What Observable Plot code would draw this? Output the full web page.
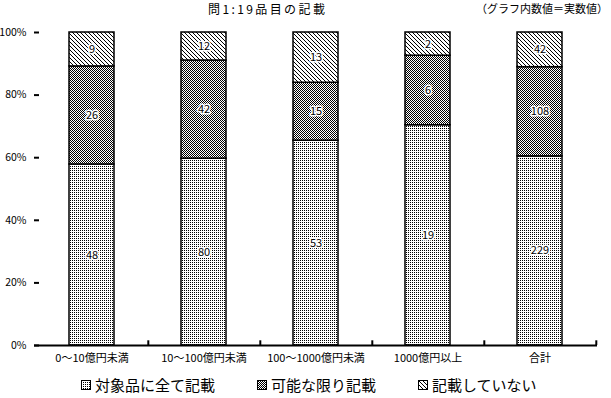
<!DOCTYPE html>
<html><head><meta charset="utf-8">
<script src="https://cdn.jsdelivr.net/npm/d3@7"></script>
<script src="https://cdn.jsdelivr.net/npm/@observablehq/plot@0.6"></script>
<style>
body{margin:0;background:#fff;font-family:"Noto Sans CJK JP",sans-serif;}
#wrap{position:relative;width:611px;height:398px;overflow:hidden;}
#chart{position:absolute;left:0;top:0;}
.t{position:absolute;white-space:nowrap;color:#000;line-height:1;}
.leg{position:absolute;top:377px;display:flex;align-items:center;font-size:15px;white-space:nowrap;line-height:1;}
.leg svg{margin-right:4px;}
</style></head>
<body>
<div id="wrap">
<div id="chart"></div>
<div class="t" style="left:208px;top:3px;font-size:12px;letter-spacing:2.4px;">問1:19品目の記載</div>
<div class="t" style="right:3px;top:3px;font-size:11px;">（グラフ内数値＝実数値）</div>
<div id="legend"></div>
</div>
<script>
const categories = ["0～10億円未満","10～100億円未満","100～1000億円未満","1000億円以上","合計"];
const series = ["対象品に全て記載","可能な限り記載","記載していない"];
const allListed = [48, 80, 53, 19, 229];
const asPossible = [26, 42, 15, 6, 108];
const notListed = [9, 12, 13, 2, 42];
const yTicks = [0, 0.2, 0.4, 0.6, 0.8, 1];
const patterns = ["url(#pDot)", "url(#pChk)", "url(#pDiag)"];

const values = [allListed, asPossible, notListed];
const data = categories.flatMap((c, i) => series.map((s, j) => ({cat: c, series: s, n: values[j][i]})));

const W = 611, H = 398, mL = 34, mR = 14, mT = 32, mB = 53;
const step = (W - mL - mR) / categories.length;

const chart = Plot.plot({
  width: W, height: H, marginLeft: mL, marginRight: mR, marginTop: mT, marginBottom: mB,
  style: {fontFamily: '"Noto Sans CJK JP", sans-serif', fontSize: "11px", color: "black", background: "white", overflow: "visible"},
  x: {domain: categories, paddingInner: 0.6, paddingOuter: 0.3, label: null},
  y: {domain: [0, 1], label: null},
  color: {domain: series, range: patterns},
  marks: [
    Plot.barY(data, Plot.stackY({x: "cat", y: "n", fill: "series", order: series, offset: "normalize", stroke: "black", strokeWidth: 1.5})),
    Plot.text(data, Plot.stackY({x: "cat", y: "n", z: "series", text: "n", order: series, offset: "normalize", fill: "black", stroke: "white", strokeWidth: 3, fontSize: 11})),
    Plot.ruleY([0], {strokeWidth: 2}),
    Plot.ruleX(categories, {x: d => d, dx: step / 2, y1: 0, y2: 0.015, strokeWidth: 2}),
    Plot.axisY({ticks: yTicks, tickFormat: d => Math.round(d * 100) + "%", tickSize: -5, tickPadding: 13, line: true, strokeWidth: 2, label: null, fontSize: 10.5}),
    Plot.axisX({tickSize: 0, tickPadding: 9, label: null})
  ]
});

const defs = `<defs>
<pattern id="pDot" patternUnits="userSpaceOnUse" width="2" height="2"><rect width="2" height="2" fill="#fff"/><rect width="1" height="1" fill="#000"/></pattern>
<pattern id="pChk" patternUnits="userSpaceOnUse" width="2" height="2"><rect width="2" height="2" fill="#fff"/><rect width="1" height="1" fill="#000"/><rect x="1" y="1" width="1" height="1" fill="#000"/></pattern>
<pattern id="pDiag" patternUnits="userSpaceOnUse" width="4" height="4"><rect width="4" height="4" fill="#fff"/><path d="M-1,-1L5,5M3,-1L5,1M-1,3L1,5" stroke="#000" stroke-width="1"/></pattern>
</defs>`;
chart.insertAdjacentHTML("afterbegin", defs);
document.getElementById("chart").appendChild(chart);

const legLeft = [81, 257, 418];
const legend = document.getElementById("legend");
series.forEach((s, i) => {
  const d = document.createElement("div");
  d.className = "leg";
  d.style.left = legLeft[i] + "px";
  d.innerHTML = `<svg width="10" height="10"><rect x="0.5" y="0.5" width="9" height="9" fill="${patterns[i]}" stroke="#000"/></svg><span>${s}</span>`;
  legend.appendChild(d);
});
</script>
</body></html>
